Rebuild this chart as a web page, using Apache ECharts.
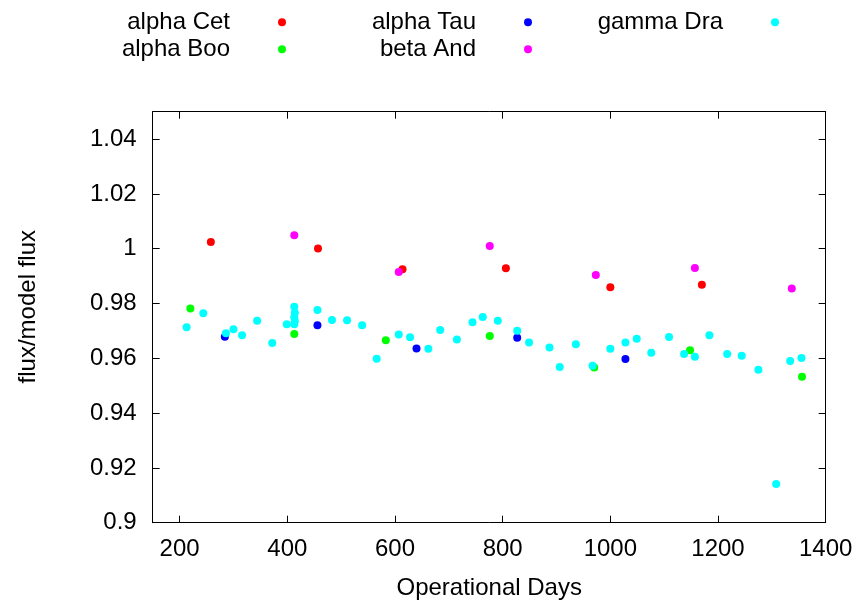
<!DOCTYPE html>
<html>
<head>
<meta charset="utf-8">
<script src="https://cdn.jsdelivr.net/npm/echarts@6/dist/echarts.min.js"></script>
<style>html,body{margin:0;padding:0;background:#fff;}#c{width:863px;height:604px;}</style>
</head>
<body>
<div id="c"></div>
<script>
// ---- data ----
const seriesNames = ['alpha Cet', 'alpha Boo', 'alpha Tau', 'beta And', 'gamma Dra'];
const alphaCetDays = [258, 457, 614, 806, 1000, 1170];
const alphaCetFlux = [1.0024, 1.0001, 0.9925, 0.9929, 0.9859, 0.9868];
const alphaBooDays = [220, 413, 583, 776, 970, 1148, 1356];
const alphaBooFlux = [0.9782, 0.9689, 0.9666, 0.9681, 0.9566, 0.9629, 0.9533];
const alphaTauDays = [284, 456, 640, 827, 1028];
const alphaTauFlux = [0.9679, 0.9721, 0.9636, 0.9675, 0.9597];
const betaAndDays = [413, 607, 776, 973, 1157, 1337];
const betaAndFlux = [1.0049, 0.9915, 1.0010, 0.9904, 0.9930, 0.9855];
const gammaDraDays = [213, 244, 286, 300, 316, 344, 372, 399, 413, 414, 413, 414, 413, 456, 483, 511, 539, 566, 607, 628, 662, 684, 715, 744, 763, 791, 827, 849, 887, 906, 936, 967, 1000, 1028, 1049, 1076, 1109, 1137, 1157, 1184, 1217, 1244, 1275, 1308, 1334, 1355];
const gammaDraFlux = [0.9713, 0.9764, 0.9691, 0.9706, 0.9684, 0.9737, 0.9656, 0.9724, 0.9788, 0.9766, 0.9750, 0.9736, 0.9724, 0.9776, 0.9740, 0.9739, 0.9721, 0.9598, 0.9687, 0.9677, 0.9635, 0.9703, 0.9669, 0.9732, 0.9751, 0.9737, 0.9701, 0.9658, 0.9639, 0.9568, 0.9651, 0.9573, 0.9635, 0.9658, 0.9671, 0.9620, 0.9678, 0.9616, 0.9606, 0.9684, 0.9616, 0.9609, 0.9558, 0.9141, 0.9590, 0.9601];
const xTicks = [200, 400, 600, 800, 1000, 1200, 1400];
const yTicks = [0.9, 0.92, 0.94, 0.96, 0.98, 1, 1.02, 1.04];
const seriesColors = ['#ff0000', '#00ff00', '#0000ff', '#ff00ff', '#00ffff'];

const days = [alphaCetDays, alphaBooDays, alphaTauDays, betaAndDays, gammaDraDays];
const flux = [alphaCetFlux, alphaBooFlux, alphaTauFlux, betaAndFlux, gammaDraFlux];

const FONT = '"Liberation Sans", Arial, Helvetica, sans-serif';
const FS = 24;

function pairs(xs, ys) { return xs.map((x, i) => [x, ys[i]]); }

const chart = echarts.init(document.getElementById('c'), null, {renderer: 'canvas'});

const axisLineStyle = {show: true, lineStyle: {color: '#000', width: 1}};
const tickStyle = {show: true, inside: true, length: 7, lineStyle: {color: '#000', width: 1}};

function legendCol(names, right) {
  return {
    orient: 'vertical', align: 'right', right: right, top: 10.2, padding: 0,
    itemWidth: 8, itemHeight: 8, itemGap: 3, icon: 'circle',
    data: names,
    selectedMode: false,
    textStyle: {fontFamily: FONT, fontSize: FS, color: '#000', lineHeight: 24, padding: [0, 43, 0, 0]}
  };
}

const option = {
  animation: false,
  backgroundColor: '#fff',
  legend: [
    legendCol([seriesNames[0], seriesNames[1]], 577),
    legendCol([seriesNames[2], seriesNames[3]], 331),
    legendCol([seriesNames[4]], 84)
  ],
  grid: {left: 152.7, right: 37.3, top: 111.7, bottom: 81.3, containLabel: false, outerBoundsMode: 'none'},
  xAxis: [
    {
      type: 'value', min: 150, max: 1400, position: 'bottom',
      name: 'Operational Days', nameLocation: 'middle', nameGap: 54, nameMoveOverlap: false,
      nameTextStyle: {fontFamily: FONT, fontSize: FS, color: '#000'},
      axisLine: axisLineStyle,
      axisTick: Object.assign({customValues: xTicks}, tickStyle),
      axisLabel: {customValues: xTicks, fontFamily: FONT, fontSize: FS, color: '#000', margin: 15,
        formatter: v => String(v)},
      splitLine: {show: false}
    },
    {
      type: 'value', min: 150, max: 1400, position: 'top',
      axisLine: axisLineStyle,
      axisTick: Object.assign({customValues: xTicks}, tickStyle),
      axisLabel: {show: false},
      splitLine: {show: false}
    }
  ],
  yAxis: [
    {
      type: 'value', min: 0.9, max: 1.05, position: 'left',
      name: 'flux/model flux', nameLocation: 'middle', nameGap: 112, nameRotate: 90, nameMoveOverlap: false,
      nameTextStyle: {fontFamily: FONT, fontSize: FS, color: '#000', padding: [0, 0, 0, 21]},
      axisLine: axisLineStyle,
      axisTick: Object.assign({customValues: yTicks}, tickStyle),
      axisLabel: {customValues: yTicks, fontFamily: FONT, fontSize: FS, color: '#000', margin: 16,
        formatter: v => String(+(+v).toFixed(2))},
      splitLine: {show: false}
    },
    {
      type: 'value', min: 0.9, max: 1.05, position: 'right',
      axisLine: axisLineStyle,
      axisTick: Object.assign({customValues: yTicks}, tickStyle),
      axisLabel: {show: false},
      splitLine: {show: false}
    }
  ],
  series: seriesNames.map((n, i) => ({
    name: n, type: 'scatter', xAxisIndex: 0, yAxisIndex: 0,
    symbol: 'circle', symbolSize: 8,
    itemStyle: {color: seriesColors[i], opacity: 1},
    data: pairs(days[i], flux[i])
  }))
};
chart.setOption(option);
</script>
</body>
</html>
